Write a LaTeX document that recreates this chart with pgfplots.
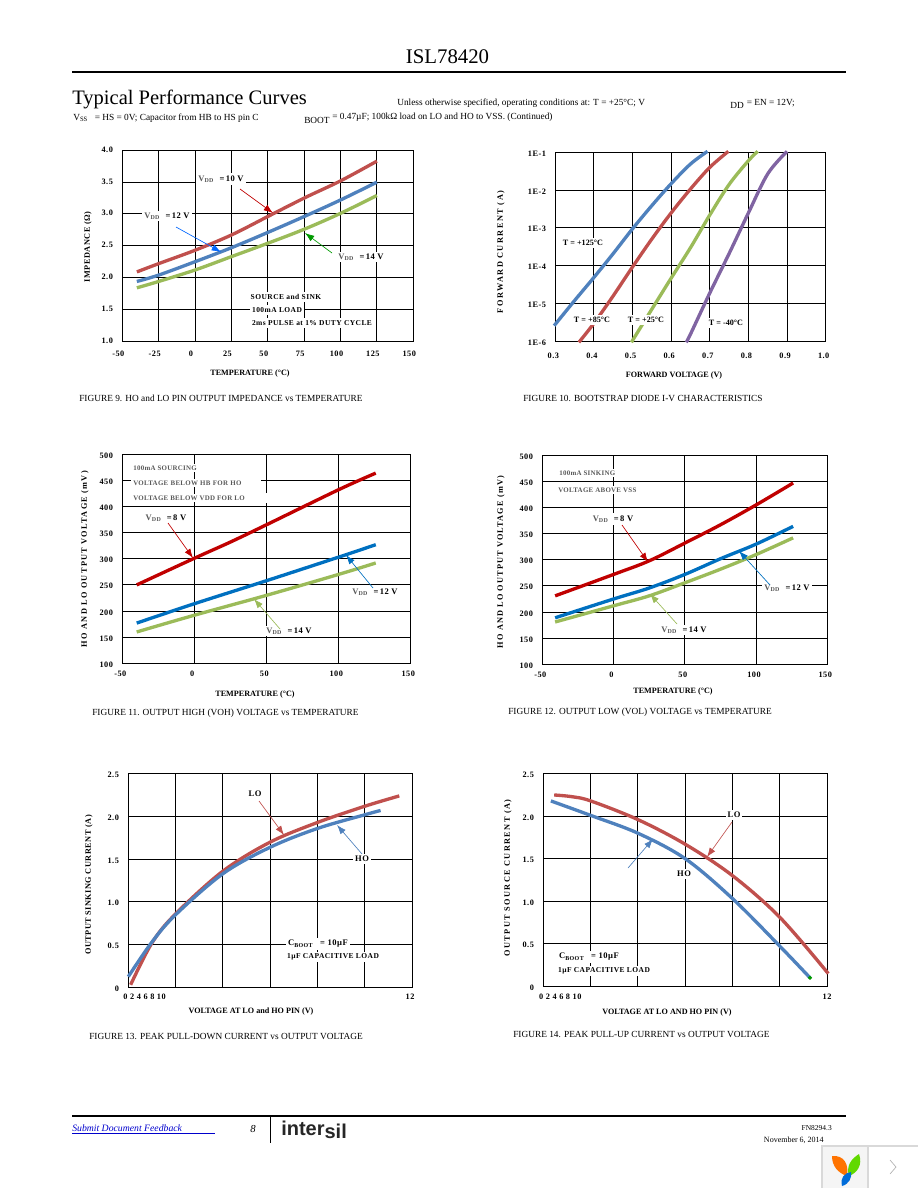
\documentclass[border=0pt]{standalone}
\usepackage{fontspec}
\setmainfont{Liberation Serif}
\newfontfamily\logofont{Liberation Sans}
\usepackage{pgfplots}
\pgfplotsset{compat=1.18}
\usetikzlibrary{arrows.meta}

\definecolor{cRed}{HTML}{C0504D}
\definecolor{cBlue}{HTML}{4F81BD}
\definecolor{cGreen}{HTML}{9BBB59}
\definecolor{cPurple}{HTML}{8064A2}
\definecolor{dRed}{HTML}{C00000}
\definecolor{dBlue}{HTML}{0070C0}

\newcommand{\fsA}{\fontsize{6.2}{7}\selectfont}
\newcommand{\spaced}{\addfontfeature{LetterSpace=6}}
\newcommand{\VDD}{\textcolor{black!65}{V\textsubscript{DD}}\hspace{4pt}=\,}

\pgfplotsset{
  chart/.style={
    scale only axis,
    anchor=south west,
    clip=false,
    grid=major,
    grid style={black,line width=.75pt},
    axis line style={line width=.75pt},
    major tick length=0pt,
    minor tick length=0pt,
    tick label style={font=\fsA\bfseries\spaced},
    /pgf/number format/assume math mode=true,
    x tick label style={xshift=-1.5pt,yshift=-2.5pt},
    y tick label style={xshift=-3.5pt,yshift=-1pt},
    scaled ticks=false,
  },
  onedec/.style={/pgf/number format/fixed,/pgf/number format/fixed zerofill,/pgf/number format/precision=1},
  curve/.style={line width=2.5pt,smooth,tension=.55,no markers},
}
\tikzset{
  lab/.style={fill=white,inner sep=1.5pt,font=\fontsize{6.4}{7}\selectfont\bfseries\spaced},
  tlab/.style={fill=white,inner sep=1.5pt,font=\fontsize{6.1}{7}\selectfont\bfseries},
  smlab/.style={lab,font=\fontsize{5.6}{7}\selectfont\bfseries\spaced},
  graylab/.style={lab,text=black!65,anchor=west,font=\fontsize{5.2}{7}\selectfont\bfseries\addfontfeature{LetterSpace=4}},
  axlab/.style={font=\fontsize{6.1}{7}\selectfont\bfseries},
  ylab/.style={font=\fontsize{6.2}{7}\selectfont\bfseries\spaced,rotate=90},
  capt/.style={anchor=west,font=\fontsize{7}{8}\selectfont,inner sep=0pt},
  head/.style={anchor=west,inner sep=0pt,font=\fontsize{7}{8}\selectfont},
  arr/.style={-{Latex[length=7pt,width=5pt]},line width=.5pt},
}

\begin{document}
\begin{tikzpicture}[x=0.75pt,y=-0.75pt]
\path[use as bounding box] (0,0) rectangle (918,1188);

% page header
\node[font=\fontsize{15.6}{17}\selectfont] at (447.5,57) {ISL78420};
\draw[line width=.8pt] (72,72) -- (845.5,72);
\node[anchor=west,inner sep=0pt,font=\fontsize{15.4}{17}\selectfont] at (72,99) {Typical Performance Curves};
\node[head] at (397,103) {Unless otherwise specified, operating conditions at: T = +25°C; V};
\node[head] at (730,104) {\textsubscript{\fontsize{7}{8}\selectfont DD} = EN = 12V;};
\node[head] at (73,118) {V\textsubscript{SS}\hspace{5pt}= HS = 0V; Capacitor from HB to HS pin C};
\node[head] at (304,120) {BOOT};
\node[head] at (332,117) {= 0.47µF; 100kΩ load on LO and HO to VSS. (Continued)};

% figure 9
\coordinate (a9) at (122.3,341.3);
\begin{axis}[chart,at={(a9)},width=218.25pt,height=143.25pt,
  xmin=-50,xmax=150,ymin=1,ymax=4,
  xtick={-50,-25,...,150},ytick={1,1.5,...,4},
  x tick label style={xshift=-1.5pt,yshift=-1.5pt},
  y tick label style={onedec,yshift=1.5pt}]
\addplot[curve,cRed] coordinates {(-40,2.09) (-25,2.22) (0,2.43) (25,2.67) (50,2.96) (75,3.25) (100,3.52) (125,3.83)};
\addplot[curve,cBlue] coordinates {(-40,1.94) (-25,2.04) (0,2.25) (25,2.47) (50,2.71) (75,2.96) (100,3.22) (125,3.50)};
\addplot[curve,cGreen] coordinates {(-40,1.84) (-25,1.94) (0,2.12) (25,2.33) (50,2.54) (75,2.76) (100,3.01) (125,3.29)};
\end{axis}
\node[lab] at (221,179) {\VDD10 V};
\node[lab] at (167,216) {\VDD12 V};
\node[lab] at (361,257) {\VDD14 V};
\draw[arr,color=red!75!black] (240,189) -- (273,213);
\draw[arr,color=blue!60!cyan] (176,227) -- (221,252);
\draw[arr,color=green!60!black] (332,253) -- (305,233);
\node[smlab] at (286,297) {SOURCE and SINK};
\node[smlab] at (277,310) {100mA LOAD};
\node[smlab] at (312,323) {2ms PULSE at 1\% DUTY CYCLE};
\node[axlab] at (250,374) {TEMPERATURE (°C)};
\node[ylab] at (88,247) {IMPEDANCE (Ω)};
\node[capt] at (79,398) {FIGURE 9. HO and LO PIN OUTPUT IMPEDANCE vs TEMPERATURE};

% figure 10
\coordinate (a10) at (555.3,341.3);
\begin{axis}[chart,at={(a10)},width=202.8pt,height=141.75pt,
  ymode=log,xmin=0.3,xmax=1.0,ymin=1e-6,ymax=1e-1,
  xtick={0.3,0.4,...,1.0},
  ytick={1e-6,1e-5,1e-4,1e-3,1e-2,1e-1},
  yticklabels={1E-6,1E-5,1E-4,1E-3,1E-2,1E-1},
  x tick label style={onedec,yshift=-2.5pt}]
\addplot[curve,cBlue] coordinates {(0.297,2.59e-6) (0.35,1.2e-5) (0.40,4.9e-5) (0.45,2.1e-4) (0.50,9.5e-4) (0.55,3.9e-3) (0.60,1.48e-2) (0.65,4.9e-2) (0.694,1.06e-1)};
\addplot[curve,cRed] coordinates {(0.361,9.4e-7) (0.40,3.0e-6) (0.45,1.6e-5) (0.50,9.3e-5) (0.55,5.1e-4) (0.60,2.5e-3) (0.65,1.07e-2) (0.70,4.0e-2) (0.748,1.06e-1)};
\addplot[curve,cGreen] coordinates {(0.497,9.4e-7) (0.55,7.1e-6) (0.60,4.7e-5) (0.65,3.0e-4) (0.70,2.2e-3) (0.75,1.41e-2) (0.80,6.0e-2) (0.824,1.06e-1)};
\addplot[curve,cPurple] coordinates {(0.639,9.4e-7) (0.65,1.55e-6) (0.70,1.9e-5) (0.75,2.1e-4) (0.80,2.5e-3) (0.85,2.7e-2) (0.90,1.06e-1)};
\end{axis}
\node[tlab] at (583,243) {T = +125°C};
\node[tlab] at (592,320) {T = +85°C};
\node[tlab] at (646,320) {T = +25°C};
\node[tlab] at (726,323) {T = -40°C};
\node[axlab] at (674,376) {FORWARD VOLTAGE (V)};
\node[ylab,font=\fontsize{6.2}{7}\selectfont\bfseries\addfontfeature{LetterSpace=18}] at (501,252) {FORWARD CURRENT (A)};
\node[capt] at (523,398) {FIGURE 10. BOOTSTRAP DIODE I-V CHARACTERISTICS};

% figure 11
\coordinate (a11) at (122.3,663.3);
\begin{axis}[chart,at={(a11)},width=216pt,height=156.75pt,
  xmin=-50,xmax=150,ymin=100,ymax=500,
  xtick={-50,0,...,150},ytick={100,150,...,500}]
\addplot[curve,dRed] coordinates {(-40,250) (0,301) (25,332) (50,365) (100,432) (126,464)};
\addplot[curve,dBlue] coordinates {(-40,177) (0,214) (50,258) (100,303) (126,327)};
\addplot[curve,cGreen] coordinates {(-40,160) (0,192) (50,230) (100,270) (126,292)};
\end{axis}
\node[graylab] at (131,468) {100mA SOURCING};
\node[graylab,text width=94pt] at (131,483) {VOLTAGE BELOW HB FOR HO};
\node[graylab] at (131,498) {VOLTAGE BELOW VDD FOR LO};
\fill[white] (258,493) rectangle (270,503);
\node[lab] at (166,518) {\VDD8 V};
\node[lab] at (375,592) {\VDD12 V};
\node[lab] at (289,631) {\VDD14 V};
\draw[arr,color=dRed] (168,523) -- (193,558);
\draw[arr,color=dBlue] (373,588) -- (346,555);
\draw[arr,color=cGreen] (280,629) -- (254,599);
\node[axlab] at (255,695) {TEMPERATURE (°C)};
\node[ylab,font=\fontsize{6.2}{7}\selectfont\bfseries\addfontfeature{LetterSpace=16}] at (85,559) {HO AND LO OUTPUT VOLTAGE (mV)};
\node[capt] at (92,713) {FIGURE 11. OUTPUT HIGH (VOH) VOLTAGE vs TEMPERATURE};

% figure 12
\coordinate (a12) at (542.3,664.3);
\begin{axis}[chart,at={(a12)},width=213.75pt,height=156.75pt,
  xmin=-50,xmax=150,ymin=100,ymax=500,
  xtick={-50,0,...,150},ytick={100,150,...,500}]
\addplot[curve,dRed] coordinates {(-41,231) (0,272) (25,298) (50,332) (75,367) (100,405) (126,447)};
\addplot[curve,dBlue] coordinates {(-41,189) (0,225) (25,246) (50,272) (75,302) (100,330) (126,364)};
\addplot[curve,cGreen] coordinates {(-41,181) (0,212) (25,231) (50,256) (75,282) (100,310) (126,342)};
\end{axis}
\node[graylab] at (557,473) {100mA SINKING};
\node[graylab] at (556,490) {VOLTAGE ABOVE VSS};
\node[lab] at (613,519) {\VDD8 V};
\node[lab] at (787,588) {\VDD12 V};
\node[lab] at (684,630) {\VDD14 V};
\draw[arr,color=dRed] (622,525) -- (648,562);
\draw[arr,color=dBlue] (770,585) -- (739,551);
\draw[arr,color=cGreen] (677,624) -- (650,594);
\node[axlab] at (673,692) {TEMPERATURE (°C)};
\node[ylab,font=\fontsize{6.2}{7}\selectfont\bfseries\addfontfeature{LetterSpace=14}] at (501,562) {HO AND LO OUTPUT VOLTAGE (mV)};
\node[capt] at (508,712) {FIGURE 12. OUTPUT LOW (VOL) VOLTAGE vs TEMPERATURE};

% figure 13
\coordinate (a13) at (128.3,987.3);
\begin{axis}[chart,at={(a13)},width=213pt,height=160.2pt,
  xmin=0,xmax=12,ymin=0,ymax=2.5,
  xtick={0,2,...,12},xticklabels={},
  ytick={0,0.5,...,2.5},yticklabels={0,0.5,1.0,1.5,2.0,2.5}]
\addplot[curve,cRed] coordinates {(0.1,0.03) (1,0.52) (2,0.86) (4,1.36) (6,1.70) (8,1.93) (10,2.12) (11.45,2.24)};
\addplot[curve,cBlue] coordinates {(0,0.125) (1,0.53) (2,0.85) (4,1.33) (6,1.64) (8,1.86) (10,2.02) (10.66,2.07)};
\end{axis}
\node[lab] at (255,794) {LO};
\node[lab] at (362,859) {HO};
\node[lab] at (318,944) {C\textsubscript{BOOT}\hspace{5pt}= 10µF};
\node[smlab] at (333,957) {1µF CAPACITIVE LOAD};
\draw[arr,color=cRed] (259,801) -- (284,835);
\draw[arr,color=cBlue] (362,854) -- (337,825);
\node[font=\fsA\bfseries\spaced] at (144.6,997) {0 2 4 6 8 10};
\node[font=\fsA\bfseries\spaced] at (410,997) {12};
\node[axlab] at (251,1012) {VOLTAGE AT LO and HO PIN (V)};
\node[ylab] at (89,885) {OUTPUT SINKING CURRENT (A)};
\node[capt] at (89,1036) {FIGURE 13. PEAK PULL-DOWN CURRENT vs OUTPUT VOLTAGE};

% figure 14
\coordinate (a14) at (543.3,986.3);
\begin{axis}[chart,at={(a14)},width=213pt,height=159.45pt,
  xmin=0,xmax=12,ymin=0,ymax=2.5,
  xtick={0,2,...,12},xticklabels={},
  ytick={0,0.5,...,2.5},yticklabels={0,0.5,1.0,1.5,2.0,2.5}]
\addplot[curve,cRed] coordinates {(0.46,2.25) (1.2,2.23) (2,2.18) (4,1.96) (6,1.67) (8,1.30) (10,0.81) (12.04,0.15)};
\addplot[curve,cBlue] coordinates {(0.32,2.18) (2,2.01) (4,1.80) (6,1.50) (8,1.03) (10,0.47) (11.27,0.10)};
\addplot[only marks,mark=*,mark size=1.3pt,color=green!60!black] coordinates {(11.27,0.10)};
\end{axis}
\node[lab] at (734,815) {LO};
\node[lab] at (684,874) {HO};
\node[lab] at (589,957) {C\textsubscript{BOOT}\hspace{5pt}= 10µF};
\node[smlab] at (604,971) {1µF CAPACITIVE LOAD};
\draw[arr,color=cRed] (732,822) -- (707,857);
\draw[arr,color=cBlue] (628,868) -- (653,839);
\node[font=\fsA\bfseries\spaced] at (560.3,997) {0 2 4 6 8 10};
\node[font=\fsA\bfseries\spaced] at (827,997) {12};
\node[axlab] at (667,1013) {VOLTAGE AT LO AND HO PIN (V)};
\node[ylab,font=\fontsize{6.2}{7}\selectfont\bfseries\addfontfeature{LetterSpace=17}] at (508,878) {OUTPUT SOURCE CURRENT (A)};
\node[capt] at (513,1034) {FIGURE 14. PEAK PULL-UP CURRENT vs OUTPUT VOLTAGE};

% page footer
\draw[line width=.8pt] (72,1116) -- (845.5,1116);
\draw[line width=.75pt] (270,1116) -- (270,1143);
\node[anchor=west,inner sep=0pt,text=blue!80!black,font=\fontsize{7.3}{8}\selectfont\itshape] at (72,1128) {Submit Document Feedback};
\draw[blue!80!black,line width=.5pt] (72,1133) -- (215,1133);
\node[font=\fontsize{8}{9}\selectfont\itshape] at (253,1129) {8};
\node[anchor=west,inner sep=0pt,text=black!85,font=\fontsize{15}{16}\logofont\bfseries] at (281,1130) {inter\raisebox{-2pt}{sil}};
\node[anchor=east,inner sep=0pt,font=\fontsize{5.6}{7}\selectfont] at (832,1128) {FN8294.3};
\node[anchor=east,inner sep=0pt,font=\fontsize{6}{7}\selectfont] at (824,1140) {November 6, 2014};

% widget in the corner
\fill[black!4] (822,1146) rectangle (868,1188);
\draw[black!15,line width=.8pt] (822,1188) -- (822,1146) -- (918,1146);
\draw[black!15,line width=.8pt] (868,1146) -- (868,1188);
\fill[orange!90!red] (832,1156) .. controls (844,1155) and (849,1164) .. (847,1176) .. controls (838,1173) and (832,1166) .. (832,1156);
\fill[green!55!yellow!85!black] (859,1154) .. controls (863,1165) and (857,1173) .. (849,1176) .. controls (846,1166) and (851,1159) .. (859,1154);
\fill[blue!50!cyan!85!black] (851,1172) .. controls (852,1178) and (849,1184) .. (842,1186) .. controls (840,1178) and (844,1173) .. (851,1172);
\draw[black!30,line width=.5pt] (890,1160) -- (896,1167) -- (890,1174);
\end{tikzpicture}
\end{document}
